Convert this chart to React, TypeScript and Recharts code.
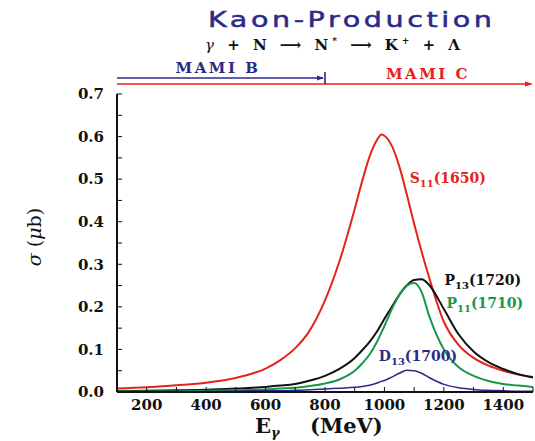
import React from 'react';
import { LineChart, Line, XAxis, YAxis, ReferenceLine, ReferenceDot } from 'recharts';

// photon energy grid (MeV)
const energies = [100, 200, 300, 400, 500, 600, 650, 700, 750, 800, 850, 900, 925, 950, 975, 990, 1000, 1025, 1050, 1075, 1100, 1125, 1150, 1200, 1250, 1300, 1350, 1400, 1450, 1500];

// cross sections (μb) for each resonance
const s11 = [0.008, 0.011, 0.016, 0.022, 0.033, 0.055, 0.075, 0.103, 0.146, 0.215, 0.31, 0.43, 0.495, 0.553, 0.592, 0.605, 0.602, 0.578, 0.53, 0.465, 0.395, 0.33, 0.27, 0.165, 0.11, 0.08, 0.062, 0.05, 0.041, 0.035];
const p13 = [0.002, 0.003, 0.004, 0.005, 0.008, 0.012, 0.015, 0.019, 0.027, 0.038, 0.055, 0.08, 0.098, 0.118, 0.142, 0.16, 0.172, 0.2, 0.228, 0.25, 0.263, 0.265, 0.252, 0.195, 0.135, 0.095, 0.07, 0.054, 0.042, 0.034];
const p11 = [0.001, 0.001, 0.002, 0.003, 0.004, 0.006, 0.008, 0.01, 0.014, 0.02, 0.03, 0.05, 0.067, 0.088, 0.118, 0.14, 0.155, 0.195, 0.228, 0.25, 0.256, 0.235, 0.18, 0.1, 0.058, 0.038, 0.026, 0.019, 0.015, 0.012];
const d13 = [0, 0, 0.001, 0.001, 0.002, 0.003, 0.003, 0.004, 0.005, 0.007, 0.009, 0.011, 0.013, 0.016, 0.021, 0.025, 0.027, 0.035, 0.044, 0.051, 0.05, 0.044, 0.034, 0.018, 0.01, 0.006, 0.004, 0.003, 0.002, 0.002];

const xTicks = [100, 200, 300, 400, 500, 600, 700, 800, 900, 1000, 1100, 1200, 1300, 1400, 1500];
const xLabels = [200, 400, 600, 800, 1000, 1200, 1400];
const yTicks = [0, 0.05, 0.1, 0.15, 0.2, 0.25, 0.3, 0.35, 0.4, 0.45, 0.5, 0.55, 0.6, 0.65, 0.7];
const yLabels = ['0.0', '0.1', '0.2', '0.3', '0.4', '0.5', '0.6', '0.7'];

const data = energies.map((e, i) => ({ e, s11: s11[i], p13: p13[i], p11: p11[i], d13: d13[i] }));

const RED = '#e4231c';
const GREEN = '#16984a';
const NAVY = '#2c2a88';
const BLACK = '#111111';
const SERIF = '"DejaVu Serif", serif';

const tickFont = { fill: '#111', fontSize: 15, fontWeight: 700, fontFamily: SERIF };

const fmtX = (v: number) => (xLabels.includes(v) ? String(v) : '');
const fmtY = (v: number) => {
  const s = v.toFixed(1);
  return Math.abs(v * 10 - Math.round(v * 10)) < 1e-6 && yLabels.includes(s) ? s : '';
};

// resonance name with subscript, placed at a data point
const resLabel = (name: string, sub: string, mass: string, color: string) => (p: any) => (
  <text x={p.cx} y={p.cy} fill={color} fontFamily={SERIF} fontWeight={700} fontSize={14}>
    {name}
    <tspan fontSize={10} dy={4}>{sub}</tspan>
    <tspan dy={-4}>({mass})</tspan>
  </text>
);

const mamiB = (p: any) => (
  <g>
    <line x1={p.x1} y1={p.y1} x2={p.x2 - 2} y2={p.y2} stroke={NAVY} strokeWidth={1.6} />
    <polygon points={`${p.x2 - 1},${p.y2} ${p.x2 - 8},${p.y2 - 2.5} ${p.x2 - 8},${p.y2 + 2.5}`} fill={NAVY} />
    <line x1={p.x2} y1={p.y2 - 6} x2={p.x2} y2={p.y2 + 6} stroke={NAVY} strokeWidth={1.6} />
  </g>
);

const mamiC = (p: any) => (
  <g>
    <line x1={p.x1} y1={p.y1} x2={p.x2 - 2} y2={p.y2} stroke={RED} strokeWidth={1.6} />
    <polygon points={`${p.x2},${p.y2} ${p.x2 - 8},${p.y2 - 2.5} ${p.x2 - 8},${p.y2 + 2.5}`} fill={RED} />
  </g>
);

export default function App() {
  return (
    <div style={{ position: 'absolute', left: 0, top: 0, width: 535, height: 441, background: '#fff' }}>
      <LineChart width={535} height={441} data={data} margin={{ top: 94, right: 2, bottom: 0, left: 0 }}>
        <XAxis
          dataKey="e"
          type="number"
          domain={[100, 1500]}
          ticks={xTicks}
          tickFormatter={fmtX}
          interval={0}
          height={49}
          tickSize={-5}
          tickMargin={12}
          tick={tickFont}
          axisLine={{ stroke: BLACK, strokeWidth: 2 }}
          tickLine={{ stroke: BLACK }}
        />
        <XAxis
          xAxisId="top"
          orientation="top"
          dataKey="e"
          type="number"
          domain={[100, 1500]}
          ticks={xTicks}
          tickFormatter={() => ''}
          interval={0}
          height={0}
          tickSize={-4}
          axisLine={{ stroke: BLACK, strokeWidth: 1.5 }}
          tickLine={{ stroke: BLACK }}
        />
        <YAxis
          type="number"
          domain={[0, 0.7]}
          ticks={yTicks}
          tickFormatter={fmtY}
          interval={0}
          width={117}
          tickSize={-5}
          tickMargin={18}
          tick={tickFont}
          axisLine={{ stroke: BLACK, strokeWidth: 2 }}
          tickLine={{ stroke: BLACK }}
        />
        <ReferenceLine segment={[{ x: 100, y: 0.7235 }, { x: 1500, y: 0.7235 }]} ifOverflow="visible" shape={mamiC} />
        <ReferenceLine segment={[{ x: 100, y: 0.7375 }, { x: 800, y: 0.7375 }]} ifOverflow="visible" shape={mamiB} />
        <Line dataKey="s11" type="monotone" stroke={RED} strokeWidth={2} dot={false} isAnimationActive={false} />
        <Line dataKey="p13" type="monotone" stroke={BLACK} strokeWidth={2} dot={false} isAnimationActive={false} />
        <Line dataKey="p11" type="monotone" stroke={GREEN} strokeWidth={2} dot={false} isAnimationActive={false} />
        <Line dataKey="d13" type="monotone" stroke={NAVY} strokeWidth={1.5} dot={false} isAnimationActive={false} />
        <ReferenceDot x={1085} y={0.49} ifOverflow="visible" shape={resLabel('S', '11', '1650', RED)} />
        <ReferenceDot x={1202} y={0.251} ifOverflow="visible" shape={resLabel('P', '13', '1720', BLACK)} />
        <ReferenceDot x={1209} y={0.197} ifOverflow="visible" shape={resLabel('P', '11', '1710', GREEN)} />
        <ReferenceDot x={981} y={0.073} ifOverflow="visible" shape={resLabel('D', '13', '1700', NAVY)} />
      </LineChart>
      <svg width={535} height={441} style={{ position: 'absolute', left: 0, top: 0, pointerEvents: 'none' }}>
        <text
          transform="translate(208 27) scale(1.3 1)"
          x={0}
          y={0}
          textLength={284 / 1.3}
          lengthAdjust="spacing"
          fill={NAVY}
          stroke={NAVY}
          strokeWidth={0.5}
          fontFamily='"DejaVu Sans", sans-serif'
          fontSize={22}
        >
          Kaon-Production
        </text>
        <text x={205} y={50} textLength={255} lengthAdjust="spacing" fill="#111" fontFamily={SERIF} fontWeight={700} fontSize={15}>
          <tspan fontStyle="italic" fontWeight={400}>γ</tspan> + N ⟶ N<tspan dy={-6} fontSize={9}>*</tspan>
          <tspan dy={6}> ⟶ K</tspan><tspan dy={-6} fontSize={9}>+</tspan><tspan dy={6}> +  Λ</tspan>
        </text>
        <text x={218} y={73} textAnchor="middle" fill={NAVY} fontFamily={SERIF} fontWeight={700} fontSize={15} letterSpacing={2.5}>
          MAMI B
        </text>
        <text x={428} y={79} textAnchor="middle" fill={RED} fontFamily={SERIF} fontWeight={700} fontSize={15} letterSpacing={2.5}>
          MAMI C
        </text>
        <text x={41} y={237} transform="rotate(-90 41 237)" textAnchor="middle" fill="#111" fontFamily={SERIF} fontSize={19}>
          <tspan fontStyle="italic">σ</tspan> (<tspan fontStyle="italic">μ</tspan>b)
        </text>
        <text x={255} y={433} fill="#111" fontFamily={SERIF} fontWeight={700} fontSize={21}>
          E<tspan dy={4} fontSize={13} fontStyle="italic">γ</tspan>
        </text>
        <text x={310} y={433} fill="#111" fontFamily={SERIF} fontWeight={700} fontSize={21}>
          (MeV)
        </text>
      </svg>
    </div>
  );
}
